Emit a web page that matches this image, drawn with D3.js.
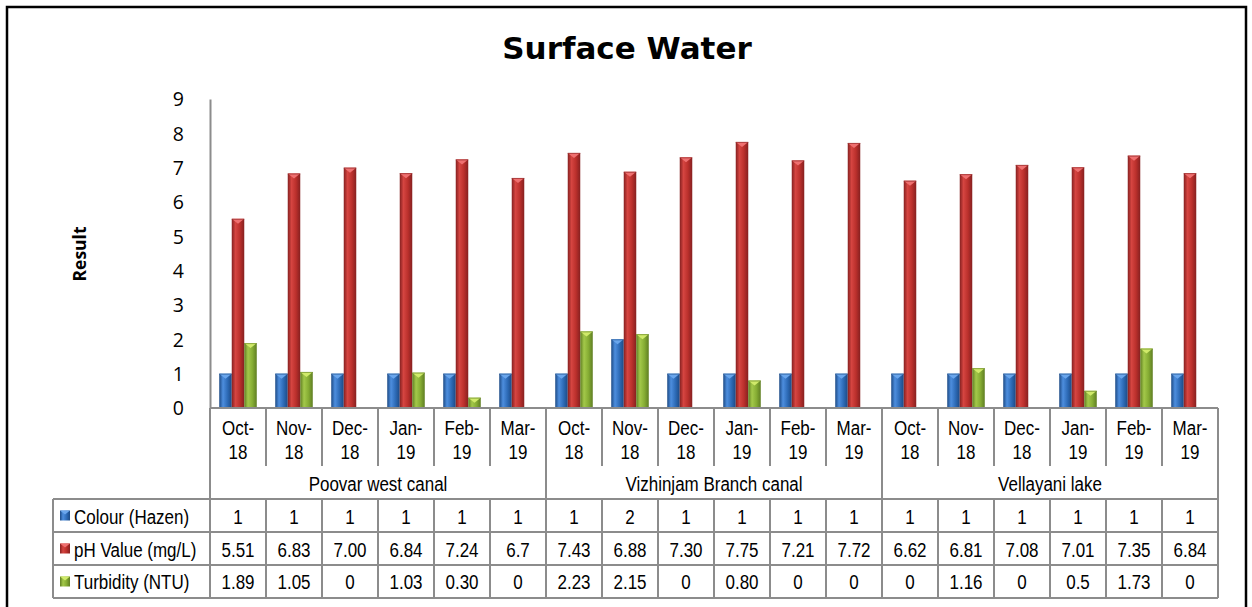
<!DOCTYPE html>
<html>
<head>
<meta charset="utf-8">
<script src="https://cdn.jsdelivr.net/npm/d3@7"></script>
<style>
  html, body { margin: 0; padding: 0; background: #fff; }
  svg { display: block; }
</style>
</head>
<body>
<script>
// ---- Data ----
const groups = ["Poovar west canal", "Vizhinjam Branch canal", "Vellayani lake"];
const months = ["Oct-18", "Nov-18", "Dec-18", "Jan-19", "Feb-19", "Mar-19"];
const seriesNames = ["Colour (Hazen)", "pH Value (mg/L)", "Turbidity (NTU)"];
const colourValues = ["1","1","1","1","1","1", "1","2","1","1","1","1", "1","1","1","1","1","1"];
const phValues = ["5.51","6.83","7.00","6.84","7.24","6.7", "7.43","6.88","7.30","7.75","7.21","7.72", "6.62","6.81","7.08","7.01","7.35","6.84"];
const turbidityValues = ["1.89","1.05","0","1.03","0.30","0", "2.23","2.15","0","0.80","0","0", "0","1.16","0","0.5","1.73","0"];
const yTicks = [0,1,2,3,4,5,6,7,8,9];
const title = "Surface Water";
const yTitle = "Result";

const series = [colourValues, phValues, turbidityValues];
const palette = [
  { base: "#2e6cb8", light: "#4d8ede", dark: "#1c4a85", top: "#6aa6ec" },
  { base: "#bb302c", light: "#d54541", dark: "#862020", top: "#ef7070" },
  { base: "#86ad34", light: "#a3c84a", dark: "#5f7e22", top: "#d0ea6a" }
];

const W = 1252, H = 607;
const svg = d3.select("body").append("svg").attr("width", W).attr("height", H);
const defs = svg.append("defs");
palette.forEach((p, i) => {
  const g = defs.append("linearGradient").attr("id", "grad" + i).attr("x1", "0").attr("x2", "1").attr("y1", "0").attr("y2", "0");
  g.append("stop").attr("offset", "0%").attr("stop-color", p.dark);
  g.append("stop").attr("offset", "30%").attr("stop-color", p.light);
  g.append("stop").attr("offset", "65%").attr("stop-color", p.base);
  g.append("stop").attr("offset", "100%").attr("stop-color", p.dark);
});

// outer frame
svg.append("rect").attr("x", 7).attr("y", 7).attr("width", 1239).attr("height", 640)
  .attr("fill", "none").attr("stroke", "#000").attr("stroke-width", 2.5);

// title
svg.append("text").attr("x", 627).attr("y", 59).attr("text-anchor", "middle")
  .attr("font-family", "DejaVu Sans").attr("font-weight", "bold").attr("font-size", 31)
  .text(title);

// scales
const cats = d3.range(groups.length * months.length);
const x0 = d3.scaleBand().domain(cats).range([210, 1218]).padding(0);
const bw = x0.bandwidth();
const x1 = d3.scaleBand().domain(d3.range(series.length)).range([bw * 0.165, bw * 0.835]).padding(0);
const y = d3.scaleLinear().domain([0, 9]).range([408, 99]);

// y axis
const yAxis = d3.axisLeft(y).tickValues(yTicks).tickSize(0).tickPadding(26).tickFormat(d3.format("d"));
const yg = svg.append("g").attr("transform", "translate(210,0)").call(yAxis);
yg.select(".domain").attr("stroke", "#8c8c8c").attr("stroke-width", 2);
yg.selectAll("text").attr("font-family", "Open Sans").attr("font-size", 19.5).attr("fill", "#000")
  .attr("dy", "0.35em");

svg.append("text").attr("transform", "translate(86,254) rotate(-90)").attr("text-anchor", "middle")
  .attr("font-family", "Open Sans").attr("font-weight", "bold").attr("font-size", 17.5)
  .text(yTitle);

// bars
const barsG = svg.append("g");
series.forEach((vals, si) => {
  vals.forEach((v, ci) => {
    const val = parseFloat(v);
    if (!(val > 0)) return;
    const bx = x0(ci) + x1(si), bwid = x1.bandwidth();
    const top = y(val), bot = y(0);
    barsG.append("rect").attr("x", bx).attr("y", top).attr("width", bwid).attr("height", bot - top)
      .attr("fill", `url(#grad${si})`);
    barsG.append("path")
      .attr("d", `M${bx},${top} L${bx + bwid},${top} L${bx + bwid / 2},${top + Math.min(5, bot - top)} Z`)
      .attr("fill", palette[si].top);
    barsG.append("line").attr("x1", bx).attr("x2", bx + bwid).attr("y1", top + 0.5).attr("y2", top + 0.5)
      .attr("stroke", palette[si].dark).attr("stroke-width", 1).attr("opacity", 0.6);
  });
});

// table
const lineColor = "#8c8c8c", lw = 2;
const T = svg.append("g");
const rowTops = [499, 532, 565, 598];
function hline(x1_, x2_, yy) {
  T.append("line").attr("x1", x1_).attr("x2", x2_).attr("y1", yy).attr("y2", yy)
    .attr("stroke", lineColor).attr("stroke-width", lw);
}
function vline(xx, y1_, y2_) {
  T.append("line").attr("x1", xx).attr("x2", xx).attr("y1", y1_).attr("y2", y2_)
    .attr("stroke", lineColor).attr("stroke-width", lw);
}
function ttext(xx, yy, str, anchor) {
  T.append("text").attr("transform", `translate(${xx},${yy}) scale(1,1.15)`)
    .attr("text-anchor", anchor || "middle").attr("font-family", "Liberation Sans")
    .attr("font-size", 17).attr("fill", "#000").text(str);
}

// axis baseline
hline(210, 1218, 408);
hline(53, 1218, 499);
hline(53, 1218, 532);
hline(53, 1218, 565);
hline(53, 1218, 598);
vline(53, 499, 598);
cats.forEach(ci => {
  const xx = x0(ci);
  const isGroup = ci % months.length === 0;
  if (isGroup) vline(xx, 408, 598);
  else { vline(xx, 408, 466); vline(xx, 499, 598); }
});
vline(1218, 408, 598);

// month labels
cats.forEach(ci => {
  const m = months[ci % months.length];
  const parts = m.split("-");
  const cx = x0(ci) + bw / 2;
  ttext(cx, 435, parts[0] + "-");
  ttext(cx, 459, parts[1]);
});
// group labels
groups.forEach((g, gi) => {
  const cx = (x0(gi * months.length) + x0(gi * months.length + months.length - 1) + bw) / 2;
  ttext(cx, 491, g);
});

// data rows
const baselines = [524, 557, 589];
series.forEach((vals, si) => {
  vals.forEach((v, ci) => ttext(x0(ci) + bw / 2, baselines[si], v));
  // legend
  const ky = (rowTops[si] + rowTops[si + 1]) / 2 - 5;
  T.append("rect").attr("x", 60).attr("y", ky).attr("width", 10).attr("height", 10).attr("fill", `url(#grad${si})`);
  T.append("path").attr("d", `M60,${ky} L70,${ky} L65,${ky + 4} Z`).attr("fill", palette[si].top);
  ttext(74, baselines[si], seriesNames[si], "start");
});
</script>
</body>
</html>
